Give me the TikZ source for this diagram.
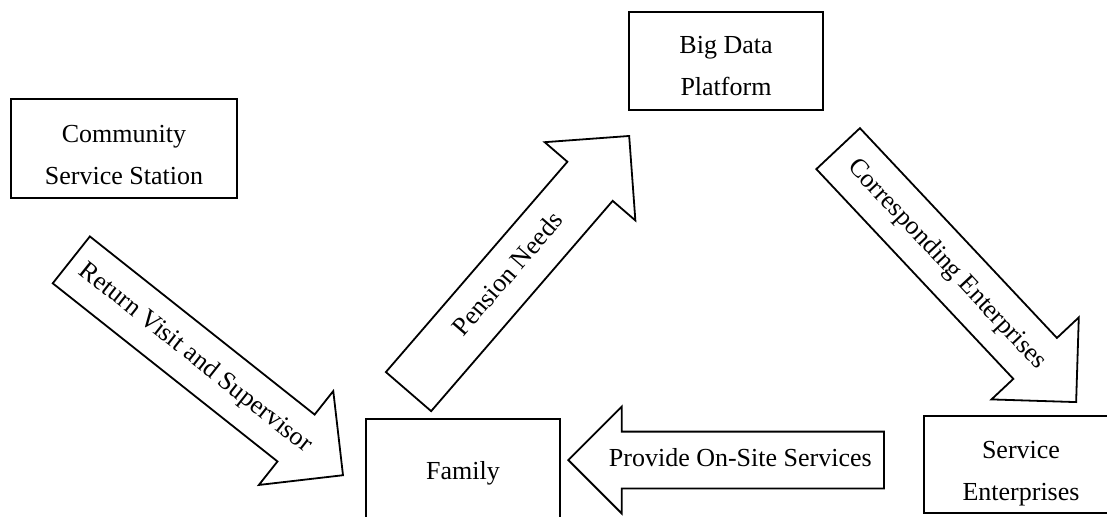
\documentclass[tikz,border=0pt]{standalone}
\usepackage{fontspec}
\setmainfont{Liberation Serif}
\usetikzlibrary{shapes.arrows}
\tikzset{
  box/.style={draw, line width=0.9pt, align=center, inner sep=0pt,
    font=\fontsize{13}{21}\selectfont},
  flow/.style={draw, line width=0.9pt, shape=single arrow, single arrow tip angle=90,
    align=flush center, inner xsep=0pt, text height=9.5pt, text depth=3pt,
    font=\fontsize{13}{15}\selectfont},
}

\begin{document}
\begin{tikzpicture}[x=0.5pt,y=-0.5pt]
  \useasboundingbox (0,0) rectangle (1107,516);
  \clip (0,0) rectangle (1107,516);

  % the four parties (text sits a bit low in its frame)
  \node[box, minimum width=113pt, minimum height=49.5pt, text height=36.5pt] (station) at (124,148.5) {Community\\Service Station};
  \node[box, minimum width=97pt, minimum height=49pt, text height=34.5pt] (platform) at (726,61) {Big Data\\Platform};
  \node[box, minimum width=97pt, minimum height=51pt, text height=12pt] (family) at (463,470) {Family};
  \node[box, minimum width=97pt, minimum height=48.5pt, text height=38.5pt] (enterprise) at (1021,464.5) {Service\\Enterprises};

  % block arrows, placed by their tips
  \node[flow, rotate=-38.4, anchor=tip, text width=157.5pt, inner ysep=8.25pt,
        single arrow head extend=15pt] (visit) at (344,476) {Return Visit and Supervisor};
  \node[flow, rotate=49.2, anchor=tip, text width=153pt, inner ysep=8.25pt,
        single arrow head extend=15pt] (needs) at (630,135) {Pension Needs};
  \node[flow, rotate=-46.8, anchor=tip, text width=158pt, inner ysep=8.25pt,
        single arrow head extend=15pt] (match) at (1077,403) {Corresponding Enterprises};
  \node[flow, shape border rotate=180, anchor=tip, text width=142.75pt, inner ysep=7.5pt,
        single arrow head extend=12.5pt] (onsite) at (567,460) {Provide On-Site Services};

\end{tikzpicture}
\end{document}
